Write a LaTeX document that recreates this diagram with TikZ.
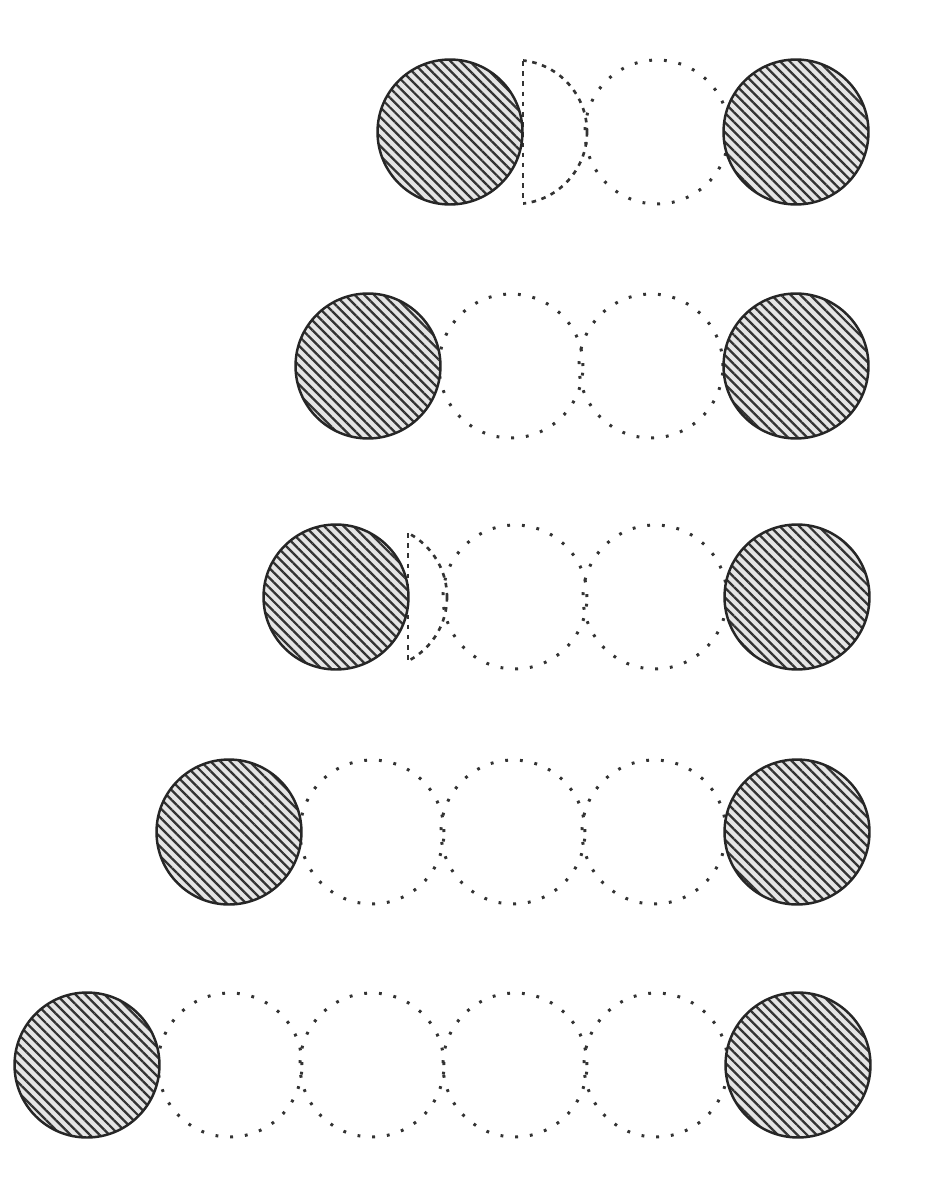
\documentclass[tikz,border=0pt]{standalone}
\usetikzlibrary{patterns.meta}
\begin{document}
\begin{tikzpicture}[x=0.02cm,y=-0.02cm]
    % Define styles
    \tikzset{
        ball/.style={circle, inner sep=0pt, minimum size=2.9cm, draw=black!85, line width=1.4pt,
            preaction={fill=black!10},
            pattern={Lines[angle=-45,distance=3.9pt,line width=1.3pt]}, pattern color=black!80},
        ghost/.style={circle, inner sep=0pt, minimum size=2.88cm, draw=black!80, line width=1.7pt,
            dash pattern=on 1.6pt off 6.8pt},
        partial/.style={draw=black!80, line width=1.5pt, dash pattern=on 2.6pt off 3.2pt}
    }
    % Page frame
    \useasboundingbox (0,0) rectangle (928,1200);
    \fill[white] (0,0) rectangle (928,1200);
    % Row 1: one ball half way in
    \begin{scope}
        \clip (523,40) rectangle (640,230);
        \draw[partial] (515,132) circle[radius=72];
    \end{scope}
    \coordinate (c1t) at (523,61);
    \coordinate (c1b) at (523,203);
    \draw[partial] (c1t) -- (c1b);
    \node[ghost] (g1-655) at (657,132) {};
    \node[ball] (b1l) at (450,132) {};
    \node[ball] (b1r) at (796,132) {};
    % Row 2: two empty places
    \foreach \x in {511,651}
        \node[ghost] (g2-\x) at (\x,366) {};
    \node[ball] (b2l) at (368,366) {};
    \node[ball] (b2r) at (796,366) {};
    % Row 3: a thin slice in front of the ball
    \begin{scope}
        \clip (408,500) rectangle (480,700);
        \draw[partial] (375,597) circle[radius=72];
    \end{scope}
    \coordinate (c3t) at (408,533);
    \coordinate (c3b) at (408,661);
    \draw[partial] (c3t) -- (c3b);
    \foreach \x in {515,655}
        \node[ghost] (g3-\x) at (\x,597) {};
    \node[ball] (b3l) at (336,597) {};
    \node[ball] (b3r) at (797,597) {};
    % Row 4: three empty places
    \foreach \x in {372,513,654}
        \node[ghost] (g4-\x) at (\x,832) {};
    \node[ball] (b4l) at (229,832) {};
    \node[ball] (b4r) at (797,832) {};
    % Row 5: four empty places
    \foreach \x in {230,372,515,656}
        \node[ghost] (g5-\x) at (\x,1065) {};
    \node[ball] (b5l) at (87,1065) {};
    \node[ball] (b5r) at (798,1065) {};
\end{tikzpicture}
\end{document}
